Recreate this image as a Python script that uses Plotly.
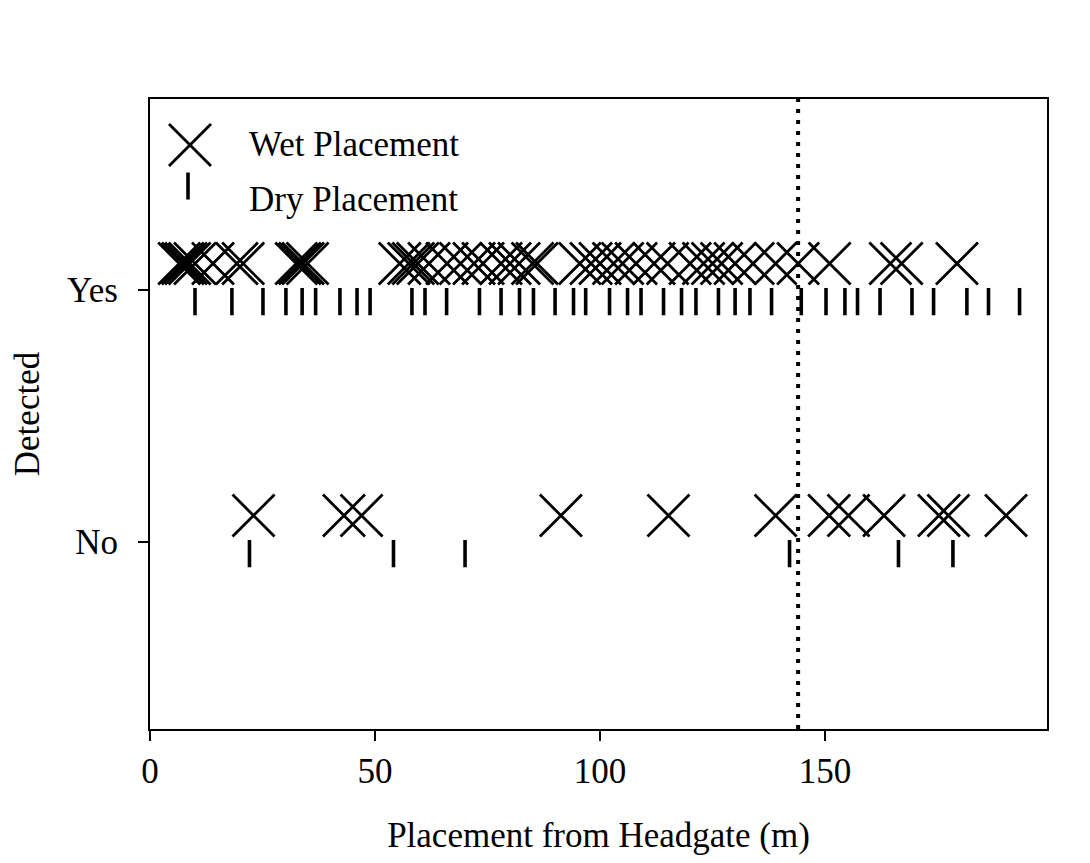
import plotly.graph_objects as go

# ---- data ----
yes_wet = [6.5, 7.3, 8.0, 8.8, 10.0, 14.0, 19.3, 20.7, 32.5, 33.3, 34.0, 35.0,
           55.5, 57.5, 58.5, 59.5, 62.0, 66.0, 69.0, 72.0, 74.0, 78.0, 80.0, 82.0,
           85.0, 86.0, 95.5, 98.0, 100.0, 103.0, 105.0, 108.0, 112.0, 115.0, 120.0,
           123.0, 125.0, 127.0, 130.0, 134.0, 139.0, 144.0, 151.0, 164.5, 167.0, 179.3]
yes_dry = [10.0, 18.2, 25.1, 30.2, 33.8, 36.8, 42.2, 46.0, 48.9, 58.2, 61.1, 65.9,
           73.2, 78.0, 82.1, 85.2, 90.0, 94.1, 96.8, 102.1, 106.1, 109.1, 114.1,
           118.1, 121.3, 126.3, 130.0, 133.3, 138.1, 144.7, 150.2, 154.4, 157.2,
           162.2, 169.3, 174.1, 181.5, 186.3, 193.2]
no_wet = [23.0, 43.1, 47.0, 91.3, 115.2, 139.0, 150.9, 155.2, 163.1, 175.3, 177.4, 190.2]
no_dry = [22.1, 54.1, 70.0, 142.1, 166.3, 178.4]
categories = ["No", "Yes"]
category_codes = [0, 1]
threshold = 144.0
x_ticks = [0, 50, 100, 150]
series_names = ["Wet Placement", "Dry Placement"]

# ---- styling ----
FONT = "Liberation Serif"
FS = 35
WET_OFF = 0.105
DRY_OFF = -0.046

wet_x = yes_wet + no_wet
wet_y = [1 + WET_OFF] * len(yes_wet) + [0 + WET_OFF] * len(no_wet)
dry_x = yes_dry + no_dry
dry_y = [1 + DRY_OFF] * len(yes_dry) + [0 + DRY_OFF] * len(no_dry)

fig = go.Figure()
fig.add_trace(go.Scatter(
    x=wet_x, y=wet_y, mode="markers", name=series_names[0],
    marker=dict(symbol="x-thin", size=42, color="black",
                line=dict(color="black", width=2.8)),
    showlegend=False))
fig.add_trace(go.Scatter(
    x=dry_x, y=dry_y, mode="markers", name=series_names[1],
    marker=dict(symbol="line-ns", size=19.5, color="black",
                line=dict(color="black", width=3.6)),
    showlegend=False))

# threshold line
fig.add_shape(type="line", xref="x", yref="paper", x0=threshold, x1=threshold,
              y0=0, y1=1, line=dict(color="black", width=4, dash="4px,7px"))

# manual legend (paper coords); plot area in page px: left 150, right 1047, top 99, bottom 729
def px_to_paper(px, py):
    return (px - 150) / (1047 - 150), (729 - py) / (729 - 99)

cx, cy = px_to_paper(190, 145)
hw = 21 / 897
hh = 21 / 630
fig.add_shape(type="line", xref="paper", yref="paper", x0=cx - hw, x1=cx + hw,
              y0=cy - hh, y1=cy + hh, line=dict(color="black", width=2.8))
fig.add_shape(type="line", xref="paper", yref="paper", x0=cx - hw, x1=cx + hw,
              y0=cy + hh, y1=cy - hh, line=dict(color="black", width=2.8))
dx, dy = px_to_paper(188, 186)
fig.add_shape(type="line", xref="paper", yref="paper", x0=dx, x1=dx,
              y0=dy - 13.5 / 630, y1=dy + 13.5 / 630, line=dict(color="black", width=3.6))
tx, ty = px_to_paper(247, 145)
fig.add_annotation(xref="paper", yref="paper", x=tx, y=ty, text=series_names[0],
                   showarrow=False, xanchor="left", yanchor="middle",
                   font=dict(family=FONT, size=FS, color="black"))
tx2, ty2 = px_to_paper(247, 199)
fig.add_annotation(xref="paper", yref="paper", x=tx2, y=ty2, text=series_names[1],
                   showarrow=False, xanchor="left", yanchor="middle",
                   font=dict(family=FONT, size=FS, color="black"))

# page body has an 8px margin, so the figure is sized to fit inside it
fig.update_layout(
    width=1074, height=847,
    margin=dict(l=142, r=35, t=91, b=126, autoexpand=False),
    paper_bgcolor="white", plot_bgcolor="white",
    font=dict(family=FONT, size=FS, color="black"),
    showlegend=False,
)
fig.update_xaxes(
    range=[0, 199.3], tickvals=x_ticks, ticktext=[str(t) for t in x_ticks],
    ticks="outside", ticklen=10, tickwidth=2, tickcolor="black",
    showline=True, linecolor="black", linewidth=2, mirror=True,
    showgrid=False, zeroline=False, automargin=False,
    ticklabelstandoff=0,
    title=dict(text="Placement from Headgate (m)", standoff=40,
               font=dict(family=FONT, size=FS, color="black")),
)
fig.update_yaxes(
    range=[-0.742, 1.758], tickvals=category_codes, ticktext=categories,
    ticks="outside", ticklen=10, tickwidth=2, tickcolor="black",
    showline=True, linecolor="black", linewidth=2, mirror=True,
    showgrid=False, zeroline=False, automargin=False,
    ticklabelstandoff=13,
    title=dict(text="Detected", standoff=40,
               font=dict(family=FONT, size=FS, color="black")),
)

fig.write_html("out.html")
